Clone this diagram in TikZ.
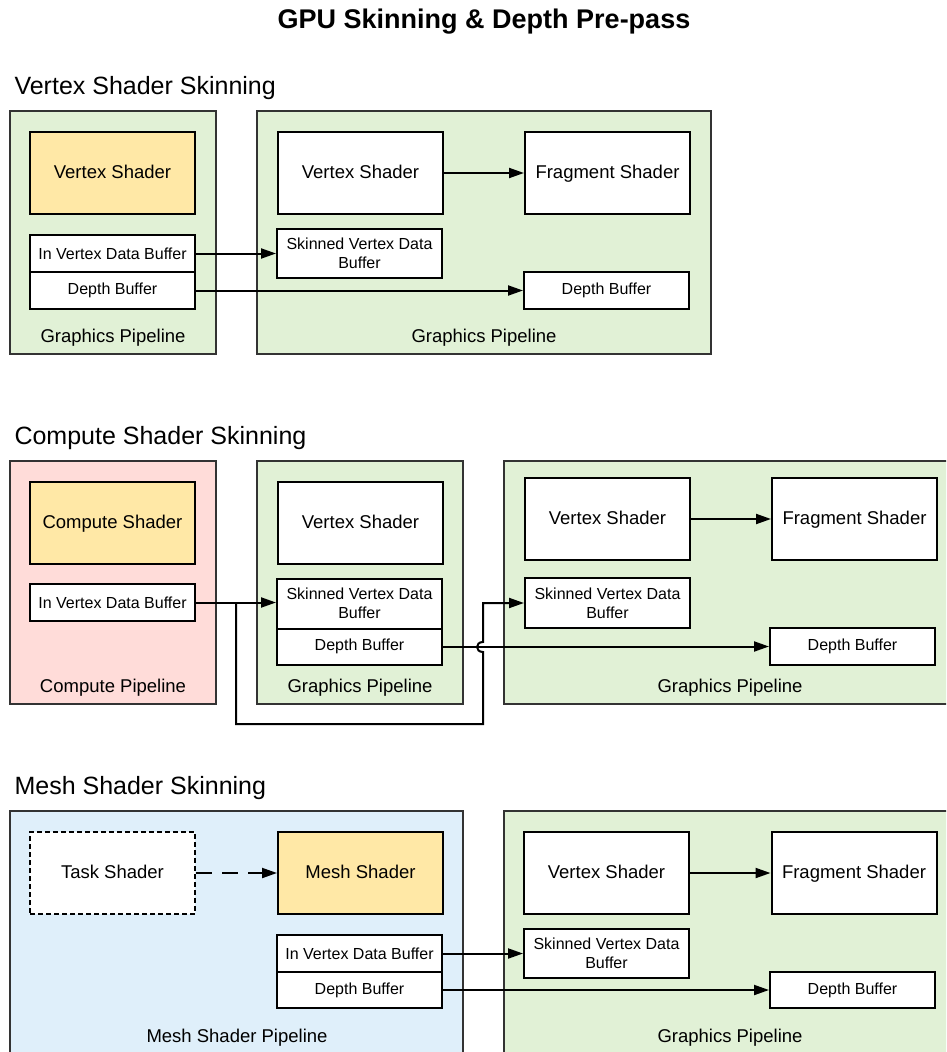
\documentclass[tikz,border=0pt]{standalone}
\usepackage{fontspec}
\setmainfont{Liberation Sans}
\usepackage[table]{xcolor}
\usepackage{tikz}
\usetikzlibrary{arrows.meta}

\definecolor{pipegreen}{HTML}{E1F1D6}
\definecolor{pipepink}{HTML}{FFDCD9}
\definecolor{pipeblue}{HTML}{DFEFFA}
\definecolor{skinyellow}{HTML}{FFE8A6}

\begin{document}
\begin{tikzpicture}[x=1pt, y=-1pt,
        pipebox/.style={draw=black!80, line width=2pt, inner sep=0pt},
        shader/.style={draw=black, line width=2pt, fill=white, minimum width=165pt,
                       minimum height=82pt, inner sep=0pt, text height=14pt, text depth=2.7pt,
                       font=\fontsize{18.5}{22}\selectfont},
        buf/.style={draw=black, line width=2pt, fill=white, minimum width=165pt,
                    inner sep=0pt, align=center, font=\fontsize{16}{19}\selectfont},
        pipelabel/.style={font=\fontsize{18.5}{22}\selectfont},
        header/.style={anchor=west, font=\fontsize{25}{29}\selectfont},
        arr/.style={line width=2pt, -{Triangle[length=15pt,width=10pt]}}]
        \useasboundingbox (0,0) rectangle (946,1052);
        \clip (0,0) rectangle (946,1052);

        \node (title) at (484,22) {\bfseries\fontsize{27}{31}\selectfont GPU Skinning \& Depth Pre-pass};

        % vertex shader skinning
        \node[header] (h1) at (11,88) {Vertex Shader Skinning};
        \node[pipebox, fill=pipegreen, minimum width=206pt, minimum height=243pt] (p1a) at (113,232.5) {};
        \node[pipebox, fill=pipegreen, minimum width=454pt, minimum height=243pt] (p1b) at (484,232.5) {};
        \node[pipelabel] (l1a) at (113,338) {Graphics Pipeline};
        \node[pipelabel] (l1b) at (484,338) {Graphics Pipeline};
        \node[shader, fill=skinyellow] (vs1a) at (112.5,173) {Vertex Shader};
        \node[buf, minimum height=37pt] (ivb1) at (112.5,253.5) {In Vertex Data Buffer};
        \node[buf, minimum height=37pt] (db1a) at (112.5,290.5) {Depth Buffer};
        \node[shader] (vs1b) at (360.5,173) {Vertex Shader};
        \node[shader] (fs1)  at (607.5,173) {Fragment Shader};
        \node[buf, minimum height=49pt] (svb1) at (359.5,253.5) {Skinned Vertex Data\\Buffer};
        \node[buf, minimum height=37pt] (db1b) at (606.5,290.5) {Depth Buffer};
        \draw[arr] (vs1b) -- (fs1);
        \draw[arr] (ivb1) -- (svb1);
        \draw[arr] (db1a) -- (db1b);

        % compute shader skinning
        \node[header] (h2) at (11,438) {Compute Shader Skinning};
        \node[pipebox, fill=pipepink,  minimum width=206pt, minimum height=243pt] (p2a) at (113,582.5) {};
        \node[pipebox, fill=pipegreen, minimum width=206pt, minimum height=243pt] (p2b) at (360,582.5) {};
        \node[pipebox, fill=pipegreen, minimum width=460pt, minimum height=243pt] (p2c) at (734,582.5) {};
        \node[pipelabel] (l2a) at (113,688) {Compute Pipeline};
        \node[pipelabel] (l2b) at (360,688) {Graphics Pipeline};
        \node[pipelabel] (l2c) at (730,688) {Graphics Pipeline};
        \node[shader, fill=skinyellow] (cs2) at (112.5,523) {Compute Shader};
        \node[buf, minimum height=37pt] (ivb2) at (112.5,602.5) {In Vertex Data Buffer};
        \node[shader] (vs2a) at (360.5,523) {Vertex Shader};
        \node[buf, minimum height=50pt] (svb2a) at (359.5,603.5) {Skinned Vertex Data\\Buffer};
        \node[buf, minimum height=36pt] (db2a)  at (359.5,646.5) {Depth Buffer};
        \node[shader] (vs2b) at (607.5,519) {Vertex Shader};
        \node[shader] (fs2)  at (854.5,519) {Fragment Shader};
        \node[buf, minimum height=50pt] (svb2b) at (607.5,603) {Skinned Vertex Data\\Buffer};
        \node[buf, minimum height=37pt] (db2b)  at (852.5,646.5) {Depth Buffer};
        \draw[arr] (vs2b) -- (fs2);
        \draw[arr] (ivb2.east) -- (ivb2.east -| svb2a.west);
        \coordinate (tap)  at (236,602.5);
        \coordinate (low)  at (483,724);
        \coordinate (hop)  at (483,652);
        \draw[arr] (tap) |- (low) -- (hop)
              .. controls (475,652) and (475,642) .. (483,642)
              |- (svb2b.west);
        \draw[arr] (db2a.east) -- (db2a.east -| db2b.west);

        % mesh shader skinning
        \node[header] (h3) at (11,788) {Mesh Shader Skinning};
        \node[pipebox, fill=pipeblue,  minimum width=453pt, minimum height=270pt] (p3a) at (236.5,946) {};
        \node[pipebox, fill=pipegreen, minimum width=460pt, minimum height=270pt] (p3b) at (734,946) {};
        \node[pipelabel] (l3a) at (237,1038) {Mesh Shader Pipeline};
        \node[pipelabel] (l3b) at (730,1038) {Graphics Pipeline};
        \node[shader, dashed, dash pattern=on 5pt off 3pt] (ts3) at (112.5,873) {Task Shader};
        \node[shader, fill=skinyellow] (ms3) at (360.5,873) {Mesh Shader};
        \node[buf, minimum height=37pt] (ivb3) at (359.5,953.5) {In Vertex Data Buffer};
        \node[buf, minimum height=36pt] (db3a) at (359.5,990) {Depth Buffer};
        \node[shader] (vs3) at (606.5,873) {Vertex Shader};
        \node[shader] (fs3) at (854,873) {Fragment Shader};
        \node[buf, minimum height=49pt] (svb3) at (606.5,953.5) {Skinned Vertex Data\\Buffer};
        \node[buf, minimum height=36pt] (db3b) at (852.5,990) {Depth Buffer};
        \draw[arr, dash pattern=on 16pt off 10pt] (ts3) -- (ms3);
        \draw[arr] (vs3) -- (fs3);
        \draw[arr] (ivb3) -- (svb3);
        \draw[arr] (db3a) -- (db3b);
\end{tikzpicture}
\end{document}
